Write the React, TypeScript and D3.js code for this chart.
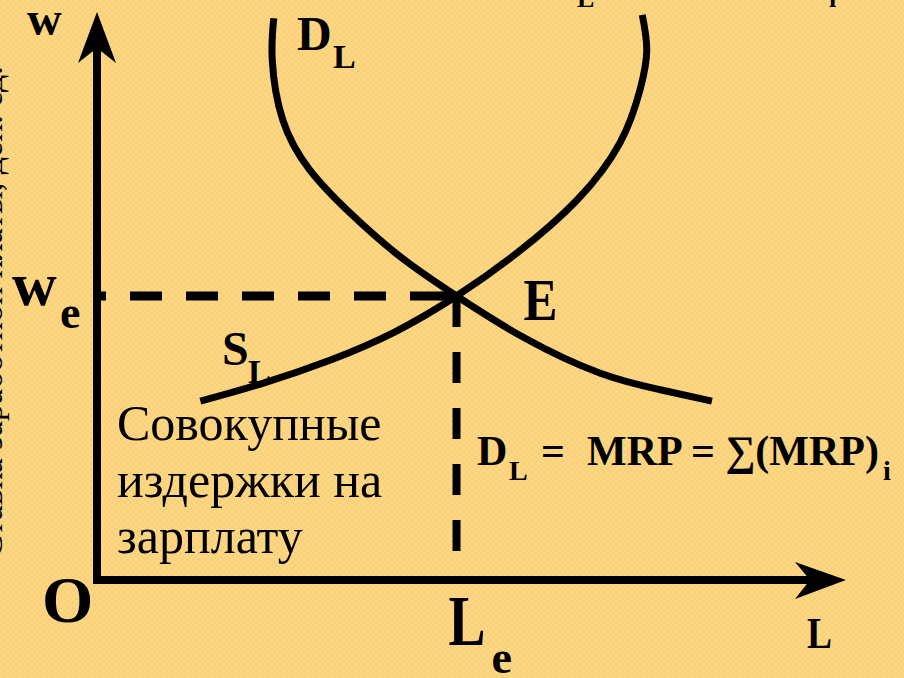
import React, { useMemo } from "react";
import * as d3 from "d3";

// labour market: quantity of labour (L) vs wage (w), 0..100 units on both axes
const demandL = [23.6, 23.4, 24.8, 28.4, 33.8, 40.5, 48, 57.1, 67.2, 75.2, 82.1];
const demandW = [98.9, 91.5, 81.0, 72.2, 64.6, 56.9, 50, 42.6, 36.4, 33.5, 31.5];

const supplyL = [13.8, 21.8, 31.1, 39.8, 48, 56.1, 64.1, 69.8, 72.5, 73.4, 72.8];
const supplyW = [31.5, 34.5, 38.7, 43.7, 50, 57.6, 66.9, 76.9, 86.3, 93.3, 99.5];

const equilibrium = { L: 48, w: 50 };

const costLines = ["Совокупные", "издержки на", "зарплату"];
const sideTitle = "Ставка заработной платы, ден. ед.";

const W = 904;
const H = 678;

const serif = "'Liberation Serif', 'Times New Roman', serif";

function LabourMarket() {
  const x = useMemo(() => d3.scaleLinear().domain([0, 100]).range([97, 846]), []);
  const y = useMemo(() => d3.scaleLinear().domain([0, 100]).range([580, 12]), []);

  const line = useMemo(
    () =>
      d3
        .line<[number, number]>()
        .x((d) => x(d[0]))
        .y((d) => y(d[1]))
        .curve(d3.curveNatural),
    [x, y]
  );

  const demandPath = line(demandL.map((l, i) => [l, demandW[i]]));
  const supplyPath = line(supplyL.map((l, i) => [l, supplyW[i]]));

  const ox = x(0);
  const oy = y(0);
  const ex = x(equilibrium.L);
  const ey = y(equilibrium.w);
  const xTip = x(100);
  const yTip = y(100);

  return (
    <svg width={W} height={H} style={{ display: "block" }}>
      <defs>
        <pattern id="paper" width="6" height="6" patternUnits="userSpaceOnUse">
          <rect width="6" height="6" fill="#FDD782" />
          <rect width="3" height="3" fill="#F9D07B" />
          <rect x="3" y="3" width="3" height="3" fill="#F9D07B" />
        </pattern>
      </defs>
      <rect width={W} height={H} fill="url(#paper)" />

      {/* side title and top formula, cut by the slide edge */}
      <text
        transform={`translate(2, 312) rotate(-90)`}
        textAnchor="middle"
        fontFamily={serif}
        fontSize={34}
        fill="#000"
      >
        {sideTitle}
      </text>
      <text fontFamily={serif} fontWeight="bold" fontSize={38} fill="#000" y={-9}>
        <tspan x={545}>S</tspan>
        <tspan x={577} y={7} fontSize={26}>L</tspan>
        <tspan x={600} y={-9}>= MRC = ∑S</tspan>
        <tspan x={829} y={7} fontSize={26}>i</tspan>
      </text>

      {/* dashed guides */}
      <line
        x1={ox}
        x2={ex}
        y1={ey}
        y2={ey}
        stroke="#000"
        strokeWidth={9}
        strokeDasharray="32 24"
        strokeDashoffset={23}
      />
      <line x1={ex - 16} x2={ex} y1={ey} y2={ey} stroke="#000" strokeWidth={9} />
      <line
        x1={ex}
        x2={ex}
        y1={ey}
        y2={oy}
        stroke="#000"
        strokeWidth={8}
        strokeDasharray="31 25"
      />

      {/* axes */}
      <line x1={ox} x2={ox} y1={oy + 4} y2={yTip + 36} stroke="#000" strokeWidth={8} />
      <polygon
        points={`${ox},${yTip} ${ox + 19},${yTip + 51} ${ox},${yTip + 36} ${ox - 19},${yTip + 51}`}
        fill="#000"
      />
      <line x1={ox - 4} x2={xTip - 36} y1={oy} y2={oy} stroke="#000" strokeWidth={8} />
      <polygon
        points={`${xTip},${oy} ${xTip - 51},${oy - 18} ${xTip - 36},${oy} ${xTip - 51},${oy + 19}`}
        fill="#000"
      />

      {/* curves */}
      <path d={demandPath ?? ""} fill="none" stroke="#000" strokeWidth={7} />
      <path d={supplyPath ?? ""} fill="none" stroke="#000" strokeWidth={7} />

      {/* labels */}
      <g fontFamily={serif} fontWeight="bold" fill="#000">
        <text x={27} y={35} fontSize={48}>w</text>
        <text x={12} y={305} fontSize={62}>w</text>
        <text x={60} y={328} fontSize={46}>e</text>

        <text x={297} y={50} fontSize={48}>D</text>
        <text x={333} y={68} fontSize={34}>L</text>

        <text x={222} y={365} fontSize={48}>S</text>
        <text x={248} y={383} fontSize={34}>L</text>

        <text x={ex + 67} y={ey + 24} fontSize={60} textLength={34} lengthAdjust="spacingAndGlyphs">E</text>

        <text x={42} y={622} fontSize={66}>O</text>
        <text x={ex - 8} y={645} fontSize={72} textLength={37} lengthAdjust="spacingAndGlyphs">L</text>
        <text x={ex + 35} y={673} fontSize={46}>e</text>
        <text x={807} y={648} fontSize={44} textLength={25} lengthAdjust="spacingAndGlyphs">L</text>

        <text fontSize={42} y={465}>
          <tspan x={477}>D</tspan>
          <tspan x={509} y={480} fontSize={28}>L</tspan>
          <tspan x={541} y={465}>=</tspan>
          <tspan x={587}>MRP</tspan>
          <tspan x={691}>= ∑(MRP)</tspan>
          <tspan x={883} y={480} fontSize={28}>i</tspan>
        </text>
      </g>

      <g fontFamily={serif} fontSize={50} fill="#000">
        {costLines.map((t, i) => (
          <text key={i} x={117} y={440 + i * 56.5}>
            {t}
          </text>
        ))}
      </g>
    </svg>
  );
}

export default function App() {
  return (
    <div style={{ position: "absolute", left: 0, top: 0 }}>
      <LabourMarket />
    </div>
  );
}
